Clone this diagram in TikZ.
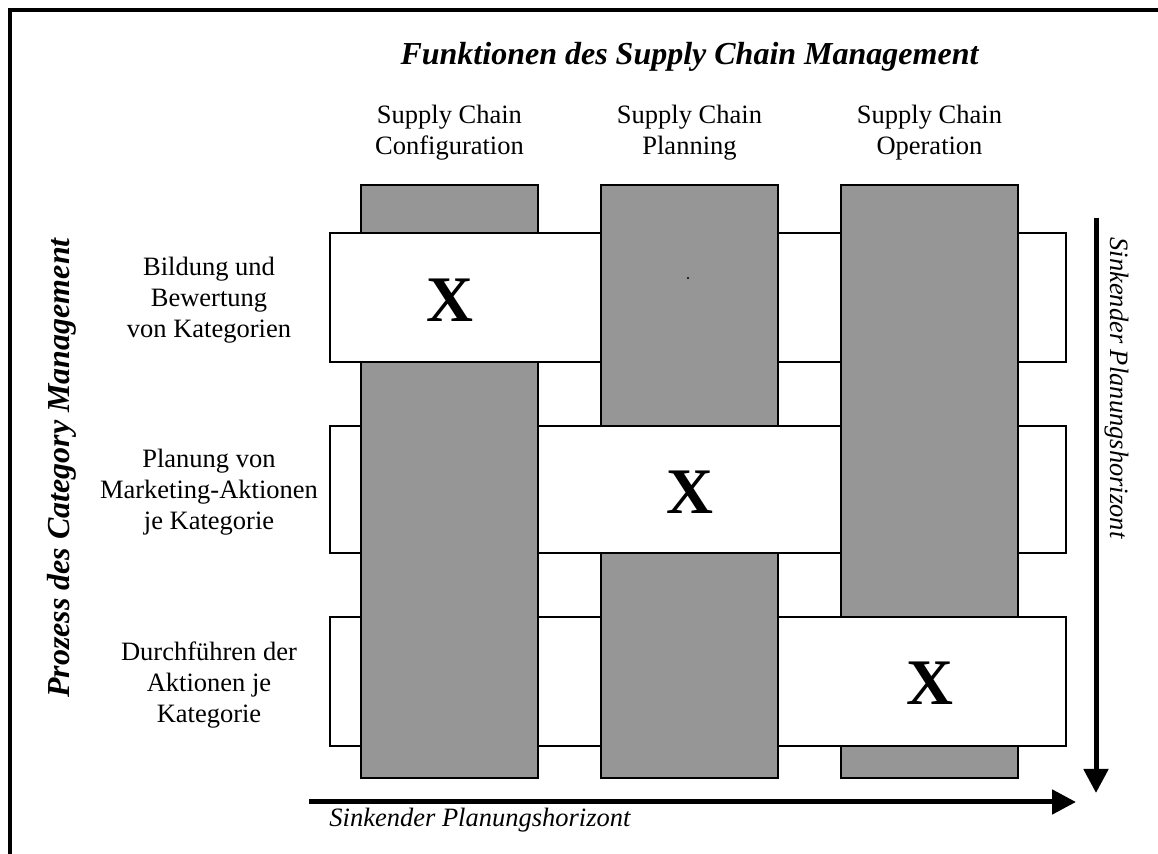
\documentclass[tikz,border=0pt]{standalone}
\usepackage{fontspec}
\setmainfont{Liberation Serif}
\usetikzlibrary{arrows.meta}
\definecolor{colgray}{RGB}{150,150,150}
\tikzset{
  rowbox/.style={draw=black, fill=white, line width=1pt},
  colbox/.style={draw=black, fill=colgray, line width=1.2pt},
  headtxt/.style={font=\fontsize{13.25}{15.5}\selectfont, align=center, inner sep=0pt},
  titletxt/.style={font=\fontsize{16}{19}\selectfont\bfseries\itshape, inner sep=0pt},
  axistxt/.style={font=\fontsize{13.25}{15.5}\selectfont\itshape, inner sep=0pt},
  xmark/.style={font=\fontsize{32.5}{39}\selectfont\bfseries, inner sep=0pt},
  axisarrow/.style={line width=2.5pt, -{Triangle[length=12pt,width=12pt]}}
}
\begin{document}
\begin{tikzpicture}[x=0.5pt,y=-0.5pt]

      \useasboundingbox (0,0) rectangle (1158,854);
      \draw[line width=2pt] (10,854) -- (10,10) -- (1158,10);

      \foreach \t/\b in {233/362, 426/553, 617/746}
        \draw[rowbox] (330,\t) rectangle (1066,\b);
      \foreach \l in {361, 601, 841}
        \draw[colbox] (\l,185) rectangle ({\l+177},778);
      \draw[rowbox] (330,233) rectangle (601,362);
      \draw[rowbox] (538,426) rectangle (841,553);
      \draw[rowbox] (778,617) rectangle (1066,746);
      \fill (688,278) circle (0.6pt);

      \node[titletxt, anchor=base] (title) at (689.5,65) {Funktionen des Supply Chain Management};
      \node[titletxt, rotate=90, anchor=base] (cmtitle) at (69,468) {Prozess des Category Management};

      \node[headtxt, anchor=north] (fconf) at (449.5,105) {Supply Chain\\Configuration};
      \node[headtxt, anchor=north] (fplan) at (689.5,105) {Supply Chain\\Planning};
      \node[headtxt, anchor=north] (foper) at (929.5,105) {Supply Chain\\Operation};

      \node[headtxt] (pbild) at (209,300) {Bildung und\\Bewertung\\von Kategorien};
      \node[headtxt] (pplan) at (209,492) {Planung von\\Marketing-Aktionen\\je Kategorie};
      \node[headtxt] (pdurch) at (209,685) {Durchführen der\\Aktionen je\\Kategorie};

      \node[xmark] (xbild) at (449.5,300) {X};
      \node[xmark] (xplan) at (689.5,492) {X};
      \node[xmark] (xdurch) at (929.5,683) {X};

      \coordinate (hstart) at (309,802);
      \coordinate (hend) at (1076,802);
      \coordinate (vstart) at (1096,218);
      \coordinate (vend) at (1096,793);
      \draw[axisarrow] (hstart) -- (hend);
      \draw[axisarrow] (vstart) -- (vend);

      \node[axistxt, anchor=base west] (hlabel) at (329,827) {Sinkender Planungshorizont};
      \node[axistxt, rotate=-90, anchor=base west] (vlabel) at (1110,237) {Sinkender Planungshorizont};

    \end{tikzpicture}
\end{document}
